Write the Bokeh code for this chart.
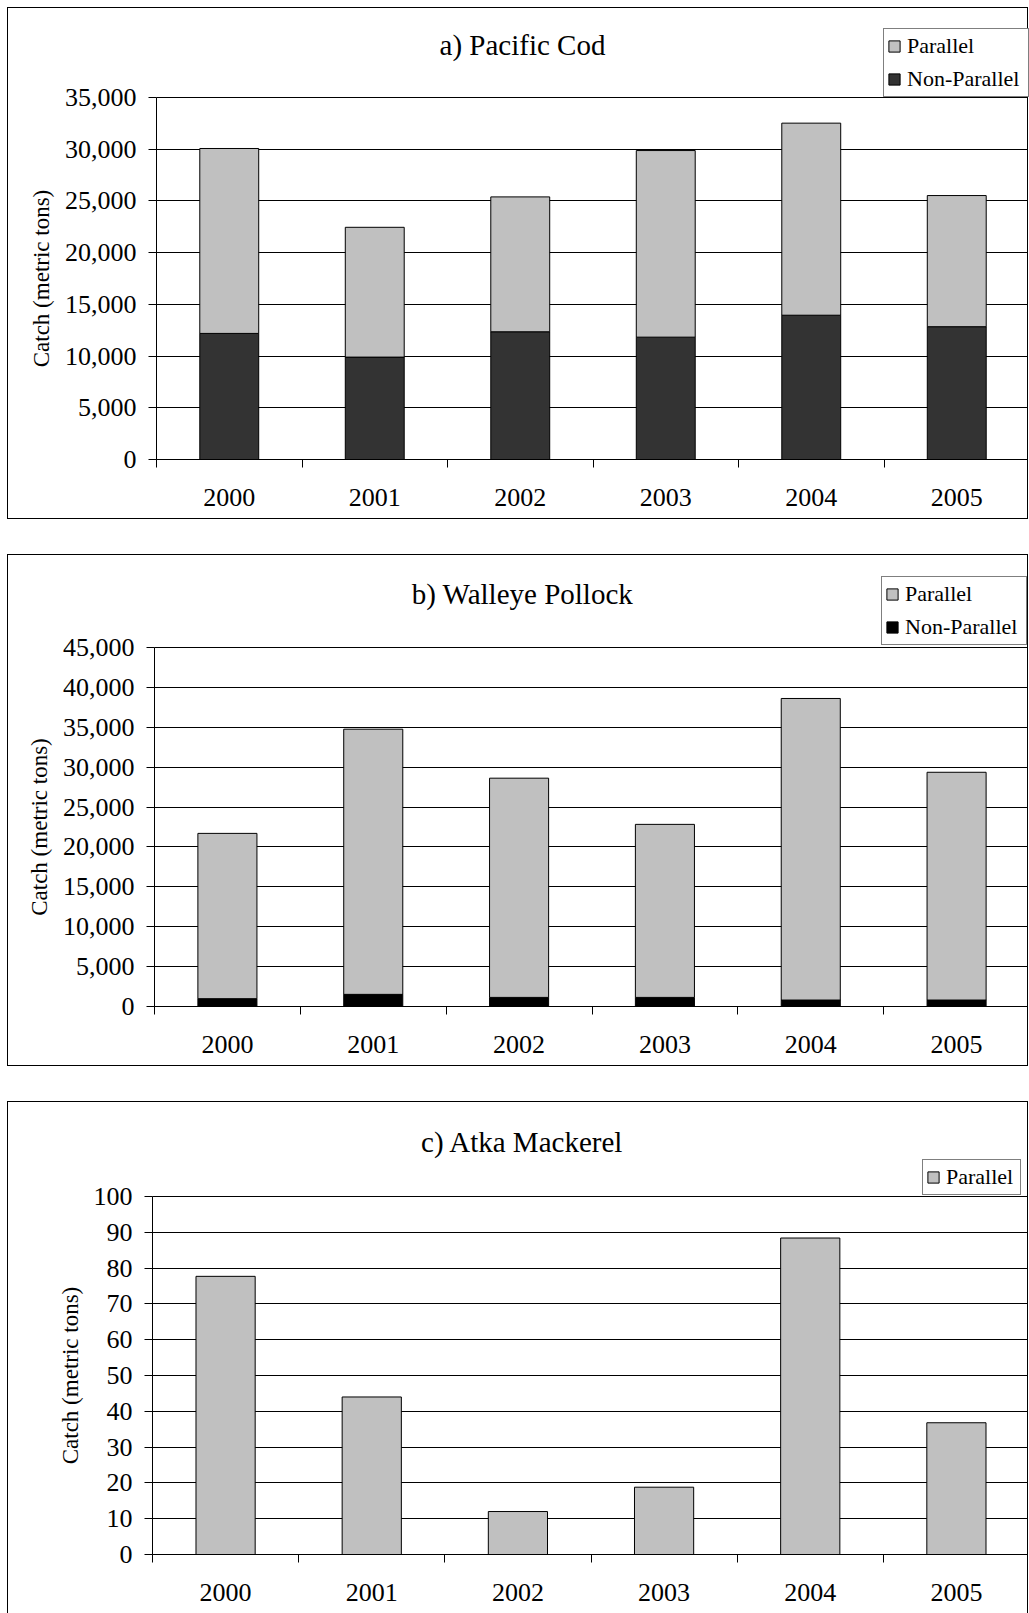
import math
from bokeh.plotting import figure
from bokeh.models import (Range1d, FixedTicker, NumeralTickFormatter, Legend,
                          LegendItem, ColumnDataSource, Label)
from bokeh.layouts import column
from bokeh.embed import file_html
from bokeh.resources import INLINE

# ---------------- data ----------------
years = ["2000", "2001", "2002", "2003", "2004", "2005"]

cod_nonparallel = [12190, 9900, 12350, 11830, 13950, 12840]
cod_parallel = [17880, 12550, 13040, 18040, 18570, 12680]

pollock_nonparallel = [980, 1520, 1140, 1140, 810, 810]
pollock_parallel = [20720, 33240, 27480, 21690, 37800, 28550]

mackerel_parallel = [77.7, 44.0, 12.0, 18.8, 88.4, 36.8]

titles = ["a) Pacific Cod", "b) Walleye Pollock", "c) Atka Mackerel"]
series_names = ["Non-Parallel", "Parallel"]
y_label = "Catch (metric tons)"

FONT = "Liberation Serif"
PAR_COLOR = "#C0C0C0"

CANVAS_W = 1021
CANVAS_H = 512
PAGE_LEFT = 8      # canvas left edge on the page (margin 7 + border 1)
TITLE_CX = 522     # page x of the title centre
FRAME_TOP = 4      # frame top inside the canvas


def panel(title, series, colors, names, ymax, ystep, axis_x, data_top, zero_y,
          title_cy, ylab_x, legend_box, legend_label_w, styles):
    """axis_x / data_top / zero_y / title_cy / ylab_x are canvas pixel positions."""
    n = len(years)
    xs = [i + 0.5 for i in range(n)]
    data = {"x": xs}
    keys = []
    for k, s in enumerate(series):
        data["s%d" % k] = s
        keys.append("s%d" % k)
    src = ColumnDataSource(data)

    # the frame fills the canvas; axes are drawn at x = 0 and y = 0 inside it
    data_h = zero_y - data_top
    per_px = ymax / data_h
    y_end = (zero_y - FRAME_TOP) * per_px
    y_start = -(CANVAS_H - zero_y) * per_px
    x_start = -n * axis_x / (CANVAS_W - axis_x)
    base = CANVAS_H - zero_y          # zero line above the frame bottom, px

    p = figure(width=CANVAS_W, height=CANVAS_H, x_range=Range1d(x_start, n),
               y_range=Range1d(y_start, y_end), output_backend="svg",
               toolbar_location=None, min_border_left=0, min_border_right=0,
               min_border_top=FRAME_TOP, min_border_bottom=0, styles=styles)
    rs = p.vbar_stack(keys, x="x", width=0.405, fill_color=colors,
                      line_color="black", line_width=1, source=src)

    # legend (location in frame pixels from the bottom-left corner)
    lx, ly = legend_box
    items = [LegendItem(label=names[k], renderers=[rs[k]])
             for k in reversed(range(len(series)))]
    leg = Legend(items=items, location=(lx - PAGE_LEFT, ly + base))
    leg.label_text_font = FONT
    leg.label_text_font_size = "22px"
    leg.label_text_color = "black"
    leg.glyph_width = 14
    leg.glyph_height = 14
    leg.label_standoff = 6
    leg.label_height = 28
    leg.label_width = legend_label_w
    leg.padding = 3
    leg.spacing = 5
    leg.margin = 0
    leg.border_line_color = "black"
    leg.border_line_width = 1
    leg.background_fill_color = "white"
    leg.background_fill_alpha = 1
    p.add_layout(leg)

    # title
    p.add_layout(Label(x=TITLE_CX - PAGE_LEFT, y=CANVAS_H - title_cy,
                       x_units="screen", y_units="screen", text=title,
                       text_font=FONT, text_font_size="29px", text_align="center",
                       text_baseline="middle", text_color="black"))
    # y axis title
    p.add_layout(Label(x=ylab_x, y=base + data_h / 2, x_units="screen",
                       y_units="screen", angle=math.pi / 2, text=y_label,
                       text_font=FONT, text_font_size="23px", text_align="center",
                       text_baseline="middle", text_color="black"))

    # x axis drawn at y = 0
    xa = p.xaxis[0]
    xa.fixed_location = 0
    xa.bounds = (0, n)
    xa.ticker = FixedTicker(ticks=xs, minor_ticks=list(range(n + 1)))
    xa.major_label_overrides = {x: y for x, y in zip(xs, years)}
    xa.major_tick_out = 0
    xa.major_tick_in = 0
    xa.minor_tick_out = 8
    xa.minor_tick_in = 0
    xa.minor_tick_line_color = "black"
    xa.axis_line_color = "black"
    xa.major_label_text_font = FONT
    xa.major_label_text_font_size = "26px"
    xa.major_label_text_color = "black"
    xa.major_label_standoff = 21

    # y axis drawn at x = 0
    yticks = list(range(0, ymax + 1, ystep))
    ya = p.yaxis[0]
    ya.fixed_location = 0
    ya.ticker = FixedTicker(ticks=yticks)
    ya.formatter = NumeralTickFormatter(format="0,0")
    ya.bounds = (0, ymax)
    ya.major_tick_out = 8
    ya.major_tick_in = 0
    ya.minor_tick_line_color = None
    ya.major_tick_line_color = "black"
    ya.axis_line_color = "black"
    ya.major_label_text_font = FONT
    ya.major_label_text_font_size = "26px"
    ya.major_label_text_color = "black"
    ya.major_label_standoff = 12

    p.xgrid.visible = False
    try:
        p.ygrid.cross_bounds = (0, n)
        p.ygrid.grid_line_color = "black"
        p.ygrid.grid_line_width = 1
    except AttributeError:
        p.ygrid.visible = False
        p.segment(x0=0, x1=n, y0=yticks, y1=yticks, line_color="black",
                  line_width=1, level="underlay")
    p.outline_line_color = None
    p.background_fill_color = "white"
    p.border_fill_color = "white"
    return p


full_border = {"border": "1px solid black"}
open_border = {"border-left": "1px solid black", "border-top": "1px solid black",
               "border-right": "1px solid black"}

pa = panel(titles[0], [cod_nonparallel, cod_parallel], ["#333333", PAR_COLOR],
           series_names, 35000, 5000, axis_x=148, data_top=89, zero_y=451,
           title_cy=36, ylab_x=33, legend_box=(883, 362), legend_label_w=118,
           styles=full_border)
pb = panel(titles[1], [pollock_nonparallel, pollock_parallel], ["#000000", PAR_COLOR],
           series_names, 45000, 5000, axis_x=146, data_top=92, zero_y=451,
           title_cy=38, ylab_x=31, legend_box=(881, 361), legend_label_w=118,
           styles=full_border)
pc = panel(titles[2], [mackerel_parallel], [PAR_COLOR], ["Parallel"],
           100, 10, axis_x=144, data_top=94, zero_y=452,
           title_cy=39, ylab_x=62, legend_box=(922, 359), legend_label_w=71,
           styles=open_border)

layout = column(pa, pb, pc, spacing=35, margin=(7, 0, 0, 7))

open("out.html", "w").write(file_html(layout, INLINE))
